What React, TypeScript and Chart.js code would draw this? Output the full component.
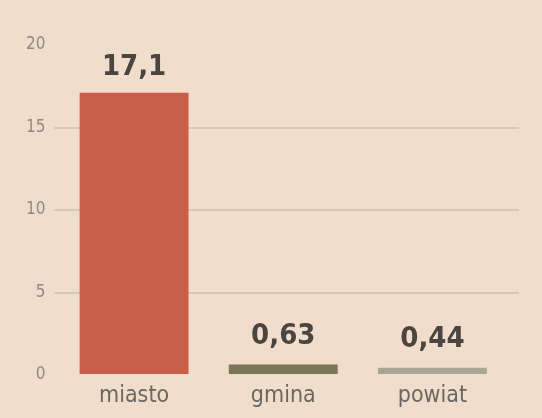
import React, { useEffect, useRef } from "react";
import { Chart, registerables } from "chart.js";

Chart.register(...registerables);

const categories = ["miasto", "gmina", "powiat"];
const values = [17.1, 0.63, 0.44];
const valueLabels = ["17,1", "0,63", "0,44"];
const barColors = ["#c95e4b", "#7a7658", "#a9a594"];
const yTicks = [0, 5, 10, 15, 20];

const FONT = "'DejaVu Sans Condensed', 'Liberation Sans Narrow', 'DejaVu Sans', sans-serif";

const valueLabelPlugin = {
  id: "valueLabels",
  afterDatasetsDraw(chart: any) {
    const { ctx } = chart;
    const meta = chart.getDatasetMeta(0);
    ctx.save();
    ctx.font = `bold 29px ${FONT}`;
    ctx.fillStyle = "#4a4540";
    ctx.textAlign = "center";
    ctx.textBaseline = "bottom";
    meta.data.forEach((bar: any, i: number) => {
      ctx.fillText(valueLabels[i], bar.x, bar.y - (i === 0 ? 11 : 14));
    });
    ctx.restore();
  },
};

const gridExtendPlugin = {
  id: "gridExtend",
  beforeDatasetsDraw(chart: any) {
    const { ctx, chartArea, scales } = chart;
    ctx.save();
    ctx.strokeStyle = "#d8c6b4";
    ctx.lineWidth = 2;
    [5, 10, 15].forEach((v) => {
      const y = Math.round(scales.y.getPixelForValue(v));
      ctx.beginPath();
      ctx.moveTo(chartArea.right - 1, y);
      ctx.lineTo(chartArea.right + 12, y);
      ctx.stroke();
    });
    ctx.restore();
  },
};

export default function App() {
  const ref = useRef<HTMLCanvasElement>(null);
  useEffect(() => {
    if (!ref.current) return;
    const chart = new Chart(ref.current, {
      type: "bar",
      data: {
        labels: categories,
        datasets: [
          {
            data: values,
            backgroundColor: barColors,
            barPercentage: 0.73,
            categoryPercentage: 1,
          },
        ],
      },
      options: {
        animation: false,
        responsive: false,
        layout: { padding: { top: 45, right: 35, left: 0, bottom: 0 } },
        plugins: { legend: { display: false }, tooltip: { enabled: false } },
        scales: {
          x: {
            grid: { display: false, drawTicks: false },
            border: { display: false },
            ticks: {
              padding: 7,
              color: "#6a6660",
              font: { family: FONT, size: 23 },
            },
            afterFit: (s: any) => {
              s.height = 43;
            },
          },
          y: {
            min: 0,
            max: 20,
            afterBuildTicks: (s: any) => {
              s.ticks = yTicks.map((v) => ({ value: v }));
            },
            grid: {
              color: (c: any) =>
                c.tick && (c.tick.value === 0 || c.tick.value === 20) ? "rgba(0,0,0,0)" : "#d8c6b4",
              lineWidth: 2,
              tickLength: 5,
            },
            border: { display: false },
            ticks: {
              padding: 9,
              color: "#8f8b85",
              font: { family: FONT, size: 17 },
            },
            afterFit: (s: any) => {
              s.width = 59.5;
            },
          },
        },
      },
      plugins: [valueLabelPlugin, gridExtendPlugin],
    });
    return () => chart.destroy();
  }, []);
  return (
    <div
      style={{
        position: "fixed",
        left: 0,
        top: 0,
        width: 542,
        height: 418,
        background: "#f0ddcb",
      }}
    >
      <canvas ref={ref} width={542} height={418} style={{ width: 542, height: 418, display: "block" }} />
    </div>
  );
}
